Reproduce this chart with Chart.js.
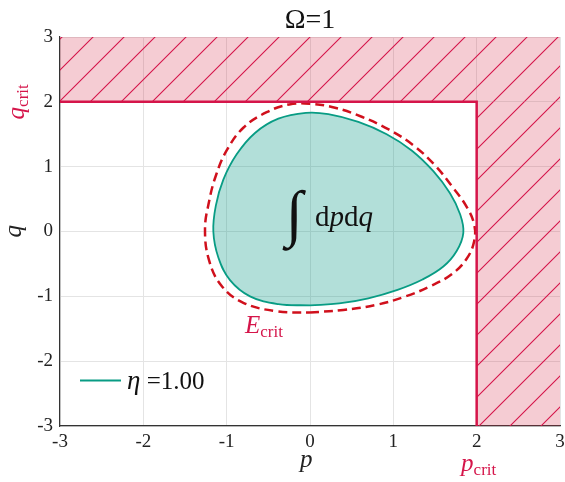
<!DOCTYPE html>
<html>
<head>
<meta charset="utf-8">
<script src="https://cdn.jsdelivr.net/npm/chart.js@4.4.1/dist/chart.umd.min.js"></script>
<style>
  html, body { margin: 0; padding: 0; background: #fff; }
  canvas { display: block; }
</style>
</head>
<body>
<canvas id="phaseChart" width="565" height="482"></canvas>
<script>
// critical values and axis ticks
const pCrit = 2;
const qCrit = 2;
const tickValues = [-3, -2, -1, 0, 1, 2, 3];

// orbit eta = 1.00
const orbitP = [0.00, 0.35, 0.70, 1.05, 1.35, 1.60, 1.76, 1.84, 1.80, 1.68, 1.48, 1.22, 0.92, 0.58, 0.22,
  -0.05, -0.38, -0.66, -0.88, -1.04, -1.13, -1.16, -1.10, -0.96, -0.72, -0.38, 0.00];
const orbitQ = [-1.14, -1.11, -1.03, -0.90, -0.74, -0.54, -0.30, -0.02, 0.27, 0.59, 0.93, 1.25, 1.50, 1.69, 1.81,
  1.83, 1.74, 1.52, 1.19, 0.80, 0.40, 0.00, -0.40, -0.75, -1.00, -1.12, -1.14];

// critical energy contour E_crit
const ecritP = [0.00, 0.40, 0.80, 1.15, 1.45, 1.70, 1.88, 1.97, 1.97, 1.88, 1.72, 1.50, 1.24, 0.95, 0.62, 0.30,
  0.00, -0.25, -0.52, -0.80, -1.00, -1.13, -1.21, -1.26, -1.21, -1.06, -0.80, -0.40, 0.00];
const ecritQ = [-1.25, -1.21, -1.13, -1.00, -0.84, -0.66, -0.42, -0.15, 0.11, 0.38, 0.67, 1.02, 1.33, 1.57, 1.77, 1.91,
  1.97, 1.96, 1.84, 1.60, 1.25, 0.86, 0.47, 0.03, -0.45, -0.84, -1.10, -1.23, -1.25];

const crimson = '#d5154a';
const teal = '#089c84';

function toPoints(xs, ys) {
  return xs.map((x, i) => ({ x: x, y: ys[i] }));
}

function makeHatch() {
  const s = 31;
  const c = document.createElement('canvas');
  c.width = s; c.height = s;
  const g = c.getContext('2d');
  g.fillStyle = 'rgba(214, 40, 70, 0.24)';
  g.fillRect(0, 0, s, s);
  g.strokeStyle = crimson;
  g.lineWidth = 1.1;
  g.beginPath();
  g.moveTo(-2, s + 2); g.lineTo(s + 2, -2);
  g.moveTo(-2, 2); g.lineTo(2, -2);
  g.moveTo(s - 2, s + 2); g.lineTo(s + 2, s - 2);
  g.stroke();
  const pat = g.createPattern(c, 'repeat');
  pat.setTransform(new DOMMatrix().translate(6, 0));
  return pat;
}
const hatch = makeHatch();

// draws a run of text pieces [text, font, dy]
function drawRun(ctx, x, y, parts, color) {
  ctx.fillStyle = color;
  ctx.textBaseline = 'alphabetic';
  ctx.textAlign = 'left';
  parts.forEach(([t, f, dy]) => {
    ctx.font = f;
    ctx.fillText(t, x, y + (dy || 0));
    x += ctx.measureText(t).width;
  });
}
function runWidth(ctx, parts) {
  let w = 0;
  parts.forEach(([t, f]) => { ctx.font = f; w += ctx.measureText(t).width; });
  return w;
}

const serif = '"Liberation Serif", "DejaVu Serif", serif';

const labelsPlugin = {
  id: 'labels',
  afterDraw(chart) {
    const ctx = chart.ctx;
    const xs = chart.scales.x, ys = chart.scales.y;
    const area = chart.chartArea;
    ctx.save();

    // title
    const title = [['\u03A9', '28px ' + serif], ['=1', '28px ' + serif]];
    drawRun(ctx, (area.left + area.right) / 2 - runWidth(ctx, title) / 2, 28, title, '#111');

    // axis titles
    drawRun(ctx, xs.getPixelForValue(0) - 10, 467, [['p', 'italic 25px ' + serif]], '#222');
    ctx.save();
    ctx.translate(21, ys.getPixelForValue(0));
    ctx.rotate(-Math.PI / 2);
    drawRun(ctx, -6, 0, [['q', 'italic 25px ' + serif]], '#222');
    ctx.restore();

    // critical labels
    const pc = [['p', 'italic 25px ' + serif], ['crit', '17px ' + serif, 4]];
    drawRun(ctx, xs.getPixelForValue(pCrit) - runWidth(ctx, pc) / 2 + 2, 471, pc, crimson);
    ctx.save();
    ctx.translate(24, ys.getPixelForValue(qCrit));
    ctx.rotate(-Math.PI / 2);
    const qc = [['q', 'italic 25px ' + serif], ['crit', '17px ' + serif, 4]];
    drawRun(ctx, -runWidth(ctx, qc) / 2, 0, qc, crimson);
    ctx.restore();
    const ec = [['E', 'italic 25px ' + serif], ['crit', '17px ' + serif, 4]];
    drawRun(ctx, xs.getPixelForValue(-0.78), ys.getPixelForValue(-1.56), ec, crimson);

    // integral inside the orbit
    drawRun(ctx, xs.getPixelForValue(-0.29), 234, [['\u222B', 'italic 62px ' + serif]], '#111');
    drawRun(ctx, xs.getPixelForValue(0.06), 226, [
      ['d', '29px ' + serif], ['p', 'italic 29px ' + serif], ['d', '29px ' + serif], ['q', 'italic 29px ' + serif]
    ], '#111');

    // legend
    const ly = ys.getPixelForValue(-2.3);
    ctx.strokeStyle = teal;
    ctx.lineWidth = 2;
    ctx.beginPath();
    ctx.moveTo(area.left + 20, ly);
    ctx.lineTo(area.left + 61, ly);
    ctx.stroke();
    drawRun(ctx, area.left + 67, ly + 8, [['\u03B7', 'italic 27px ' + serif], [' =1.00', '25px ' + serif]], '#111');

    ctx.restore();
  }
};

new Chart(document.getElementById('phaseChart').getContext('2d'), {
  type: 'scatter',
  data: {
    datasets: [
      {
        label: 'q region',
        data: toPoints([-3, 3, 3, -3, -3], [qCrit, qCrit, 3, 3, qCrit]),
        showLine: true, fill: 'shape', backgroundColor: hatch,
        borderWidth: 0, pointRadius: 0, tension: 0, order: 5
      },
      {
        label: 'p region',
        data: toPoints([pCrit, 3, 3, pCrit, pCrit], [-3, -3, qCrit, qCrit, -3]),
        showLine: true, fill: 'shape', backgroundColor: hatch,
        borderWidth: 0, pointRadius: 0, tension: 0, order: 5
      },
      {
        label: 'boundary',
        data: toPoints([-3, pCrit, pCrit], [qCrit, qCrit, -3]),
        showLine: true, fill: false, borderColor: crimson,
        borderWidth: 2.5, pointRadius: 0, tension: 0, order: 1
      },
      {
        label: 'eta = 1.00',
        data: toPoints(orbitP, orbitQ),
        showLine: true, fill: 'shape', backgroundColor: 'rgba(0, 150, 130, 0.3)',
        borderColor: teal, borderWidth: 1.8, pointRadius: 0, tension: 0.4, order: 3
      },
      {
        label: 'E crit',
        data: toPoints(ecritP, ecritQ),
        showLine: true, fill: false, borderColor: '#d0101c',
        borderWidth: 2.5, borderDash: [9, 5], pointRadius: 0, tension: 0.4, order: 2
      }
    ]
  },
  options: {
    responsive: false,
    animation: false,
    layout: { padding: { top: 37, right: 5, left: 0, bottom: 0 } },
    plugins: {
      legend: { display: false },
      tooltip: { enabled: false }
    },
    scales: {
      x: {
        type: 'linear', min: -3, max: 3,
        afterBuildTicks: s => { s.ticks = tickValues.map(v => ({ value: v })); },
        afterFit: s => { s.height = 56; s.paddingLeft = 0; s.paddingRight = 0; },
        grid: { color: '#e4e4e4', drawTicks: false },
        border: { display: true, color: '#333', width: 1.2 },
        ticks: { padding: 5, color: '#222', font: { family: serif, size: 19 } }
      },
      y: {
        type: 'linear', min: -3, max: 3,
        afterBuildTicks: s => { s.ticks = tickValues.map(v => ({ value: v })); },
        afterFit: s => { s.width = 60; s.paddingTop = 0; s.paddingBottom = 0; },
        grid: { color: '#e4e4e4', drawTicks: false },
        border: { display: true, color: '#333', width: 1.2 },
        ticks: { padding: 7, color: '#222', font: { family: serif, size: 19 } }
      }
    }
  },
  plugins: [labelsPlugin]
});
</script>
</body>
</html>
